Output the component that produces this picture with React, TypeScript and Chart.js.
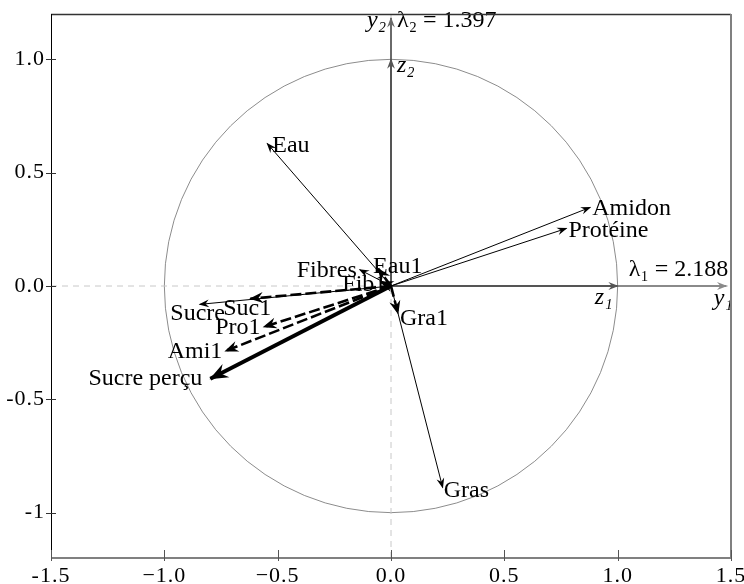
import { useEffect, useRef } from "react";
import { Chart, registerables } from "chart.js";

Chart.register(...registerables);

// ---- data ----
const activeNames = ["Eau", "Amidon", "Protéine", "Fibres", "Sucre", "Gras"];
const activeX = [-0.546, 0.879, 0.774, -0.138, -0.844, 0.228];
const activeY = [0.629, 0.347, 0.254, 0.072, -0.081, -0.889];

const perceivedNames = ["Sucre perçu"];
const perceivedX = [-0.797];
const perceivedY = [-0.409];

const judgeNames = ["Suc1", "Pro1", "Ami1", "Fib1", "Eau1", "Gra1"];
const judgeX = [-0.621, -0.562, -0.731, -0.047, -0.057, 0.031];
const judgeY = [-0.056, -0.181, -0.287, 0.018, 0.077, -0.122];

const eigenvalues = [2.188, 1.397];

const xTickValues = [-1.5, -1, -0.5, 0, 0.5, 1, 1.5];
const xTickLabels = ["-1.5", "\u22121.0", "\u22120.5", "0.0", "0.5", "1.0", "1.5"];
const yTickValues = [-1, -0.5, 0, 0.5, 1];
const yTickLabels = ["-1", "-0.5", "0.0", "0.5", "1.0"];

// ---- label placement (style, pixels relative to arrow tip) ----
type Place = { align: CanvasTextAlign; dx: number; dy: number };
const activePlace: Place[] = [
  { align: "left", dx: 5, dy: 2 },
  { align: "left", dx: 2, dy: 1 },
  { align: "left", dx: 2, dy: 2 },
  { align: "right", dx: -3, dy: 1 },
  { align: "center", dx: -2, dy: 9 },
  { align: "left", dx: 1, dy: 3 },
];
const perceivedPlace: Place[] = [{ align: "right", dx: -8, dy: 0 }];
const judgePlace: Place[] = [
  { align: "center", dx: -3, dy: 10 },
  { align: "right", dx: -3, dy: 1 },
  { align: "right", dx: -3, dy: 1 },
  { align: "left", dx: -38, dy: 3 },
  { align: "left", dx: -5, dy: -2 },
  { align: "left", dx: 2, dy: 5 },
];

const FONT = "'Liberation Serif', 'DejaVu Serif', serif";
const LABEL_SIZE = 24;

function seg(x: number, y: number, opts: any) {
  return {
    data: [
      { x: 0, y: 0 },
      { x, y },
    ],
    showLine: true,
    pointRadius: 0,
    pointHoverRadius: 0,
    fill: false,
    tension: 0,
    clip: false,
    borderCapStyle: "butt",
    ...opts,
  };
}

function drawHead(ctx: CanvasRenderingContext2D, x0: number, y0: number, x1: number, y1: number, len: number, half: number, color: string) {
  const a = Math.atan2(y1 - y0, x1 - x0);
  const tx = x1 + Math.cos(a) * 1;
  const ty = y1 + Math.sin(a) * 1;
  ctx.beginPath();
  ctx.moveTo(tx, ty);
  ctx.lineTo(tx - len * Math.cos(a - half), ty - len * Math.sin(a - half));
  ctx.lineTo(tx - len * 0.62 * Math.cos(a), ty - len * 0.62 * Math.sin(a));
  ctx.lineTo(tx - len * Math.cos(a + half), ty - len * Math.sin(a + half));
  ctx.closePath();
  ctx.fillStyle = color;
  ctx.fill();
}

const decorPlugin = {
  id: "pcaDecor",
  beforeDraw(chart: any) {
    const ctx = chart.ctx as any;
    ctx.letterSpacing = "1px";
  },
  beforeDatasetsDraw(chart: any) {
    const { ctx, scales } = chart;
    (ctx as any).letterSpacing = "0px";
    const x = scales.x, y = scales.y;
    const cx = x.getPixelForValue(0), cy = y.getPixelForValue(0);
    const rx = x.getPixelForValue(1) - cx;
    const ry = cy - y.getPixelForValue(1);
    ctx.save();
    ctx.strokeStyle = "#8c8c8c";
    ctx.lineWidth = 1;
    ctx.beginPath();
    ctx.ellipse(cx, cy, rx, ry, 0, 0, Math.PI * 2);
    ctx.stroke();
    ctx.restore();
  },
  afterDatasetsDraw(chart: any) {
    const { ctx, scales } = chart;
    const x = scales.x, y = scales.y;
    ctx.save();
    chart.data.datasets.forEach((ds: any) => {
      if (!ds.head) return;
      const p0 = ds.data[0], p1 = ds.data[1];
      drawHead(
        ctx,
        x.getPixelForValue(p0.x), y.getPixelForValue(p0.y),
        x.getPixelForValue(p1.x), y.getPixelForValue(p1.y),
        ds.head.len, ds.head.half, ds.borderColor
      );
    });

    // text labels
    ctx.fillStyle = "#000";
    ctx.textBaseline = "middle";
    ctx.font = `${LABEL_SIZE}px ${FONT}`;
    const put = (names: string[], xs: number[], ys: number[], pl: Place[]) => {
      names.forEach((n, i) => {
        const px = x.getPixelForValue(xs[i]);
        const py = y.getPixelForValue(ys[i]);
        ctx.textAlign = pl[i].align;
        ctx.fillText(n, px + pl[i].dx, py + pl[i].dy);
      });
    };
    put(activeNames, activeX, activeY, activePlace);
    put(perceivedNames, perceivedX, perceivedY, perceivedPlace);
    put(judgeNames, judgeX, judgeY, judgePlace);

    // axis labels
    const cx = x.getPixelForValue(0), cy = y.getPixelForValue(0);
    const y1tip = x.getPixelForValue(Math.sqrt(eigenvalues[0]));
    const z1tip = x.getPixelForValue(1);
    const y2tip = y.getPixelForValue(Math.sqrt(eigenvalues[1]));
    const z2tip = y.getPixelForValue(1);
    ctx.textAlign = "right";
    ctx.fillText(`\u03bb\u2081 = ${eigenvalues[0].toFixed(3)}`, y1tip + 2, cy - 16);
    ctx.textAlign = "left";
    ctx.fillText(`\u03bb\u2082 = ${eigenvalues[1].toFixed(3)}`, cx + 6, y2tip + 3);
    ctx.font = `italic ${LABEL_SIZE}px ${FONT}`;
    ctx.textAlign = "center";
    ctx.fillText("y\u2081", y1tip - 3, cy + 13);
    ctx.fillText("z\u2081", z1tip - 14, cy + 12);
    ctx.textAlign = "right";
    ctx.fillText("y\u2082", cx - 5, y2tip + 3);
    ctx.textAlign = "left";
    ctx.fillText("z\u2082", cx + 6, z2tip + 6);
    ctx.restore();
  },
  afterDraw(chart: any) {
    const { ctx, chartArea, scales } = chart;
    const { left, right, top, bottom } = chartArea;
    ctx.save();
    // spines
    ctx.lineWidth = 1.3;
    ctx.strokeStyle = "#333";
    ctx.beginPath();
    ctx.moveTo(left, top + 0.5);
    ctx.lineTo(right, top + 0.5);
    ctx.stroke();
    ctx.lineWidth = 1;
    ctx.strokeStyle = "#000";
    ctx.beginPath();
    ctx.moveTo(left + 0.5, top);
    ctx.lineTo(left + 0.5, bottom);
    ctx.stroke();
    ctx.lineWidth = 2;
    ctx.strokeStyle = "#808080";
    ctx.beginPath();
    ctx.moveTo(left, bottom);
    ctx.lineTo(right, bottom);
    ctx.moveTo(right, top);
    ctx.lineTo(right, bottom + 1);
    ctx.stroke();
    // ticks
    ctx.lineWidth = 1;
    ctx.strokeStyle = "#333";
    yTickValues.forEach((v) => {
      const py = Math.round(scales.y.getPixelForValue(v)) + 0.5;
      ctx.beginPath();
      ctx.moveTo(left - 5, py);
      ctx.lineTo(left + 5, py);
      ctx.stroke();
    });
    ctx.strokeStyle = "#555";
    xTickValues.forEach((v) => {
      const px = Math.round(scales.x.getPixelForValue(v)) + 0.5;
      ctx.beginPath();
      ctx.moveTo(px, bottom - 8);
      ctx.lineTo(px, bottom + 3);
      ctx.stroke();
    });
    ctx.restore();
  },
};

export default function App() {
  const ref = useRef<HTMLCanvasElement | null>(null);

  useEffect(() => {
    if (!ref.current) return;
    const thin = { len: 11, half: 0.36 };
    const datasets: any[] = [];

    // zero reference lines
    datasets.push({
      data: [{ x: -1.5, y: 0 }, { x: 1.5, y: 0 }],
      showLine: true, pointRadius: 0, borderColor: "#c8c8c8", borderWidth: 1,
      borderDash: [6, 5], order: 100,
    });
    datasets.push({
      data: [{ x: 0, y: -1.2 }, { x: 0, y: 1.2 }],
      showLine: true, pointRadius: 0, borderColor: "#c8c8c8", borderWidth: 1,
      borderDash: [6, 5], order: 100,
    });

    // axis arrows
    datasets.push(seg(Math.sqrt(eigenvalues[0]), 0, { borderColor: "#8a8a8a", borderWidth: 2, order: 90, head: { len: 11, half: 0.36 } }));
    datasets.push(seg(0, Math.sqrt(eigenvalues[1]), { borderColor: "#6a6a6a", borderWidth: 2, order: 90, head: { len: 11, half: 0.36 } }));
    datasets.push(seg(1, 0, { borderColor: "#555", borderWidth: 2, order: 80, head: { len: 11, half: 0.36 } }));
    datasets.push(seg(0, 1, { borderColor: "#555", borderWidth: 2, order: 80, head: { len: 11, half: 0.36 } }));

    activeX.forEach((vx, i) => {
      datasets.push(seg(vx, activeY[i], { borderColor: "#000", borderWidth: 1, order: 30, head: thin }));
    });
    perceivedX.forEach((vx, i) => {
      datasets.push(seg(vx, perceivedY[i], { borderColor: "#000", borderWidth: 4, order: 20, head: { len: 20, half: 0.38 } }));
    });
    judgeX.forEach((vx, i) => {
      datasets.push(seg(vx, judgeY[i], { borderColor: "#000", borderWidth: 2.6, borderDash: [11, 4], order: 10, head: { len: 15, half: 0.38 } }));
    });

    const zeroPad = (s: any) => {
      s.paddingTop = 0;
      s.paddingBottom = 0;
      s.paddingLeft = 0;
      s.paddingRight = 0;
    };

    const chart = new Chart(ref.current, {
      type: "scatter",
      data: { datasets },
      options: {
        responsive: false,
        animation: false,
        events: [],
        layout: { padding: { top: 14, right: 13, left: 0, bottom: 0 } },
        plugins: { legend: { display: false }, tooltip: { enabled: false } },
        scales: {
          x: {
            type: "linear",
            min: -1.5,
            max: 1.5,
            grid: { display: false, drawTicks: false },
            border: { display: false },
            afterBuildTicks: (s: any) => {
              s.ticks = xTickValues.map((v) => ({ value: v }));
            },
            afterFit: (s: any) => {
              s.height = 26;
              zeroPad(s);
            },
            ticks: {
              autoSkip: false,
              maxRotation: 0,
              padding: 5,
              color: "#000",
              font: { family: FONT, size: 22 },
              callback: (v: any) => {
                const i = xTickValues.indexOf(Number(v));
                return i >= 0 ? xTickLabels[i] : "";
              },
            },
          },
          y: {
            type: "linear",
            min: -1.2,
            max: 1.2,
            grid: { display: false, drawTicks: false },
            border: { display: false },
            afterBuildTicks: (s: any) => {
              s.ticks = yTickValues.map((v) => ({ value: v }));
            },
            afterFit: (s: any) => {
              s.width = 51;
              zeroPad(s);
            },
            ticks: {
              autoSkip: false,
              padding: 6,
              color: "#000",
              font: { family: FONT, size: 22 },
              callback: (v: any) => {
                const i = yTickValues.indexOf(Number(v));
                return i >= 0 ? yTickLabels[i] : "";
              },
            },
          },
        },
      },
      plugins: [decorPlugin],
    } as any);

    return () => chart.destroy();
  }, []);

  return (
    <div style={{ position: "absolute", left: 0, top: 0, width: 744, height: 584, background: "#fff" }}>
      <canvas ref={ref} width={744} height={584} style={{ display: "block" }} />
    </div>
  );
}
